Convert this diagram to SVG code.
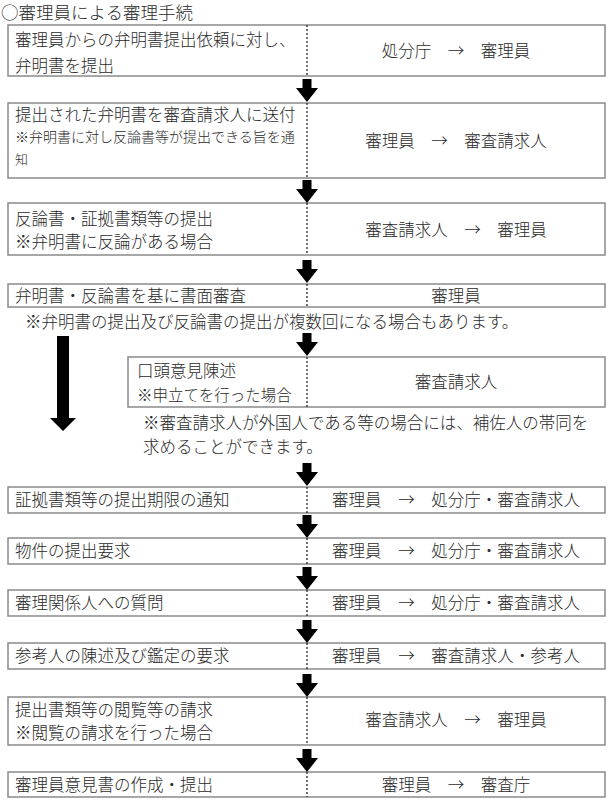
<svg xmlns="http://www.w3.org/2000/svg" xmlns:xlink="http://www.w3.org/1999/xlink" width="611" height="800" viewBox="0 0 611 800">
<defs>
<style>
text{font-family:"Noto Sans CJK JP","Liberation Sans",sans-serif;fill:#2a2a2a;font-size:16.5px;font-weight:300}
.box{fill:#fff;stroke:#8a8a8a;stroke-width:1.5}
.div{stroke:#333;stroke-width:1.4;stroke-dasharray:2 2}
.r{text-anchor:middle}
.s{font-size:14px}
.xs{font-size:13px}
.m{font-size:15.5px}
.t{font-size:17.5px}
.arr{fill:#000}
</style>
<path id="dn" class="arr" d="M-4.5,-23 H4.5 V-14 H11 L0,0 L-11,-14 H-4.5 Z"/>
</defs>
<rect width="611" height="800" fill="#fff"/>
<text id="title" class="t" x="1" y="19">○審理員による審理手続</text>

<g id="n1">
<rect class="box" x="8" y="25" width="597" height="51"/>
<line class="div" x1="307" y1="25" x2="307" y2="76"/>
<text x="15" y="46">審理員からの弁明書提出依頼に対し、</text>
<text x="15" y="72">弁明書を提出</text>
<text class="r" x="456" y="57">処分庁　→　審理員</text>
</g>
<g id="n2">
<rect class="box" x="8" y="103" width="597" height="75"/>
<line class="div" x1="307" y1="103" x2="307" y2="178"/>
<text x="15" y="121">提出された弁明書を審査請求人に送付</text>
<text class="s" x="15" y="142">※弁明書に対し反論書等が提出できる旨を通</text>
<text class="xs" x="15" y="164">知</text>
<text class="r" x="456" y="147">審理員　→　審査請求人</text>
</g>
<g id="n3">
<rect class="box" x="8" y="203" width="597" height="52"/>
<line class="div" x1="307" y1="203" x2="307" y2="255"/>
<text x="15" y="225">反論書・証拠書類等の提出</text>
<text x="15" y="248">※弁明書に反論がある場合</text>
<text class="r" x="456" y="236">審査請求人　→　審理員</text>
</g>
<g id="n4">
<rect class="box" x="8" y="284" width="597" height="23"/>
<line class="div" x1="307" y1="284" x2="307" y2="307"/>
<text x="15" y="302">弁明書・反論書を基に書面審査</text>
<text class="r" x="456" y="302">審理員</text>
</g>
<g id="note1">
<text x="25" y="328">※弁明書の提出及び反論書の提出が複数回になる場合もあります。</text>
</g>
<g id="n5">
<rect class="box" x="128" y="357" width="477" height="50"/>
<line class="div" x1="307" y1="357" x2="307" y2="407"/>
<text x="137" y="377">口頭意見陳述</text>
<text class="m" x="137" y="401">※申立てを行った場合</text>
<text class="r" x="456" y="388">審査請求人</text>
</g>
<g id="note2">
<text x="143" y="429">※審査請求人が外国人である等の場合には、補佐人の帯同を</text>
<text x="143" y="453">求めることができます。</text>
</g>
<g id="n6">
<rect class="box" x="8" y="487" width="597" height="26"/>
<line class="div" x1="307" y1="487" x2="307" y2="513"/>
<text x="15" y="506">証拠書類等の提出期限の通知</text>
<text class="r" x="456" y="506" textLength="248" lengthAdjust="spacing">審理員　→　処分庁・審査請求人</text>
</g>
<g id="n7">
<rect class="box" x="8" y="538" width="597" height="26"/>
<line class="div" x1="307" y1="538" x2="307" y2="564"/>
<text x="15" y="557">物件の提出要求</text>
<text class="r" x="456" y="557" textLength="248" lengthAdjust="spacing">審理員　→　処分庁・審査請求人</text>
</g>
<g id="n8">
<rect class="box" x="8" y="590" width="597" height="26"/>
<line class="div" x1="307" y1="590" x2="307" y2="616"/>
<text x="15" y="609">審理関係人への質問</text>
<text class="r" x="456" y="609" textLength="248" lengthAdjust="spacing">審理員　→　処分庁・審査請求人</text>
</g>
<g id="n9">
<rect class="box" x="8" y="643" width="597" height="26"/>
<line class="div" x1="307" y1="643" x2="307" y2="669"/>
<text x="15" y="662">参考人の陳述及び鑑定の要求</text>
<text class="r" x="456" y="662" textLength="248" lengthAdjust="spacing">審理員　→　審査請求人・参考人</text>
</g>
<g id="n10">
<rect class="box" x="8" y="697" width="597" height="48"/>
<line class="div" x1="307" y1="697" x2="307" y2="745"/>
<text x="15" y="716">提出書類等の閲覧等の請求</text>
<text x="15" y="739">※閲覧の請求を行った場合</text>
<text class="r" x="456" y="726">審査請求人　→　審理員</text>
</g>
<g id="n11">
<rect class="box" x="8" y="772" width="597" height="25"/>
<line class="div" x1="307" y1="772" x2="307" y2="797"/>
<text x="15" y="791">審理員意見書の作成・提出</text>
<text class="r" x="456" y="791">審理員　→　審査庁</text>
</g>

<g id="connectors">
<use xlink:href="#dn" transform="translate(307,102)"/>
<use xlink:href="#dn" transform="translate(307,203)"/>
<use xlink:href="#dn" transform="translate(307,283)"/>
<use xlink:href="#dn" transform="translate(307,356)"/>
<use xlink:href="#dn" transform="translate(307,486)"/>
<use xlink:href="#dn" transform="translate(307,538)"/>
<use xlink:href="#dn" transform="translate(307,590)"/>
<use xlink:href="#dn" transform="translate(307,643)"/>
<use xlink:href="#dn" transform="translate(307,697)"/>
<use xlink:href="#dn" transform="translate(307,772)"/>
<path class="arr" d="M57,336 H69 V418 H76 L63,431 L50,418 H57 Z"/>
</g>
</svg>
